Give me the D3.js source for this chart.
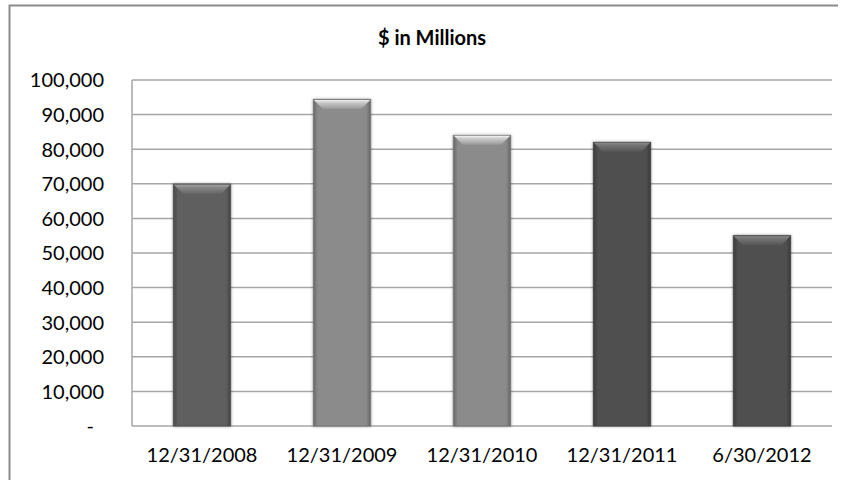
<!DOCTYPE html>
<html>
<head>
<meta charset="utf-8">
<script src="https://cdn.jsdelivr.net/npm/d3@7/dist/d3.min.js"></script>
<style>
  html, body { margin: 0; padding: 0; background: #fff; }
  svg { display: block; }
  text { font-family: Lato, "Open Sans", sans-serif; fill: #000; }
</style>
</head>
<body>
<svg id="chart" width="847" height="480"></svg>
<script>
// Balances at each period end, $ in millions
const categories = ["12/31/2008", "12/31/2009", "12/31/2010", "12/31/2011", "6/30/2012"];
const values = [69900, 94400, 84000, 82000, 55000];
const tickValues = [0, 10000, 20000, 30000, 40000, 50000, 60000, 70000, 80000, 90000, 100000];
const title = "$ in Millions";

// bar shades (dark / light grey alternating groups)
const barTones = ["#5e5e5e", "#8b8b8b", "#8b8b8b", "#4f4f4f", "#4f4f4f"];

const svg = d3.select("#chart");
const W = 847, H = 480;
const m = { left: 132, right: 832, top: 80, bottom: 426 };

// outer chart frame (top and left edges)
svg.append("path")
  .attr("d", `M9.5,${H} V5.5 H838`)
  .attr("fill", "none")
  .attr("stroke", "#8c8c8c")
  .attr("stroke-width", 2);

svg.append("text")
  .attr("x", 432).attr("y", 45)
  .attr("text-anchor", "middle")
  .attr("font-size", 20)
  .attr("font-weight", "bold")
  .text(title);

const x = d3.scaleBand().domain(categories).range([m.left, m.right]).paddingInner(0.59).paddingOuter(0.295);
const y = d3.scaleLinear().domain([0, 100000]).range([m.bottom, m.top]);

// gridlines
const grid = svg.append("g");
grid.selectAll("line").data(tickValues).join("line")
  .attr("x1", m.left).attr("x2", m.right)
  .attr("y1", d => y(d)).attr("y2", d => y(d))
  .attr("stroke", "#a6a6a6").attr("stroke-width", 1.5);
svg.append("line")
  .attr("x1", m.left).attr("x2", m.left)
  .attr("y1", m.top).attr("y2", m.bottom)
  .attr("stroke", "#a6a6a6").attr("stroke-width", 1.5);

// y axis labels
const fmt = d3.format(",");
const yAxis = d3.axisLeft(y).tickValues(tickValues).tickSize(0).tickPadding(0)
  .tickFormat(d => d === 0 ? "-" : fmt(d));
const gy = svg.append("g").attr("transform", `translate(104,0)`).call(yAxis);
gy.select(".domain").remove();
gy.selectAll("text")
  .attr("font-size", 20).attr("font-family", "Lato, 'Open Sans', sans-serif").attr("fill", "#000")
  .attr("dy", "0.34em")
  .attr("dx", d => d === 0 ? -10 : 0);

// x axis labels
const xAxis = d3.axisBottom(x).tickSize(0).tickPadding(0);
const gx = svg.append("g").attr("transform", `translate(0,${m.bottom})`).call(xAxis);
gx.select(".domain").remove();
gx.selectAll("text")
  .attr("font-size", 20).attr("font-family", "Lato, 'Open Sans', sans-serif").attr("fill", "#000")
  .attr("y", 36).attr("dy", 0);

// gradients and soft shadow for beveled bars
const defs = svg.append("defs");
const f = defs.append("filter").attr("id", "shadow").attr("x", "-20%").attr("y", "-10%").attr("width", "140%").attr("height", "120%");
f.append("feGaussianBlur").attr("in", "SourceAlpha").attr("stdDeviation", 1.5).attr("result", "b");
f.append("feComponentTransfer").attr("in", "b").attr("result", "s")
  .append("feFuncA").attr("type", "linear").attr("slope", 0.45);
const fm = f.append("feMerge");
fm.append("feMergeNode").attr("in", "s");
fm.append("feMergeNode").attr("in", "SourceGraphic");

barTones.forEach((c, i) => {
  const base = d3.color(c);
  const side = defs.append("linearGradient").attr("id", "side" + i).attr("x1", 0).attr("x2", 1).attr("y1", 0).attr("y2", 0);
  side.append("stop").attr("offset", 0).attr("stop-color", base.darker(0.8));
  side.append("stop").attr("offset", 0.08).attr("stop-color", base);
  side.append("stop").attr("offset", 0.92).attr("stop-color", base);
  side.append("stop").attr("offset", 1).attr("stop-color", base.darker(0.9));
  const top = defs.append("linearGradient").attr("id", "top" + i).attr("x1", 0).attr("x2", 0).attr("y1", 0).attr("y2", 1);
  top.append("stop").attr("offset", 0).attr("stop-color", base.brighter(1.6));
  top.append("stop").attr("offset", 0.25).attr("stop-color", base.brighter(1.1));
  top.append("stop").attr("offset", 1).attr("stop-color", base.brighter(0.25));
});

const bars = svg.append("g").selectAll("g").data(values).join("g").attr("filter", "url(#shadow)");
bars.append("rect")
  .attr("x", (d, i) => x(categories[i]))
  .attr("y", d => y(d))
  .attr("width", x.bandwidth())
  .attr("height", d => y(0) - y(d))
  .attr("fill", (d, i) => `url(#side${i})`)
  .attr("stroke", (d, i) => d3.color(barTones[i]).darker(0.5))
  .attr("stroke-width", 0.8);
const bev = 9;
bars.append("path")
  .attr("d", (d, i) => {
    const x0 = x(categories[i]) + 0.5, x1 = x0 + x.bandwidth() - 1, y0 = y(d) + 0.5;
    return `M${x0},${y0} H${x1} L${x1 - bev},${y0 + bev} H${x0 + bev} Z`;
  })
  .attr("fill", (d, i) => `url(#top${i})`);
</script>
</body>
</html>
